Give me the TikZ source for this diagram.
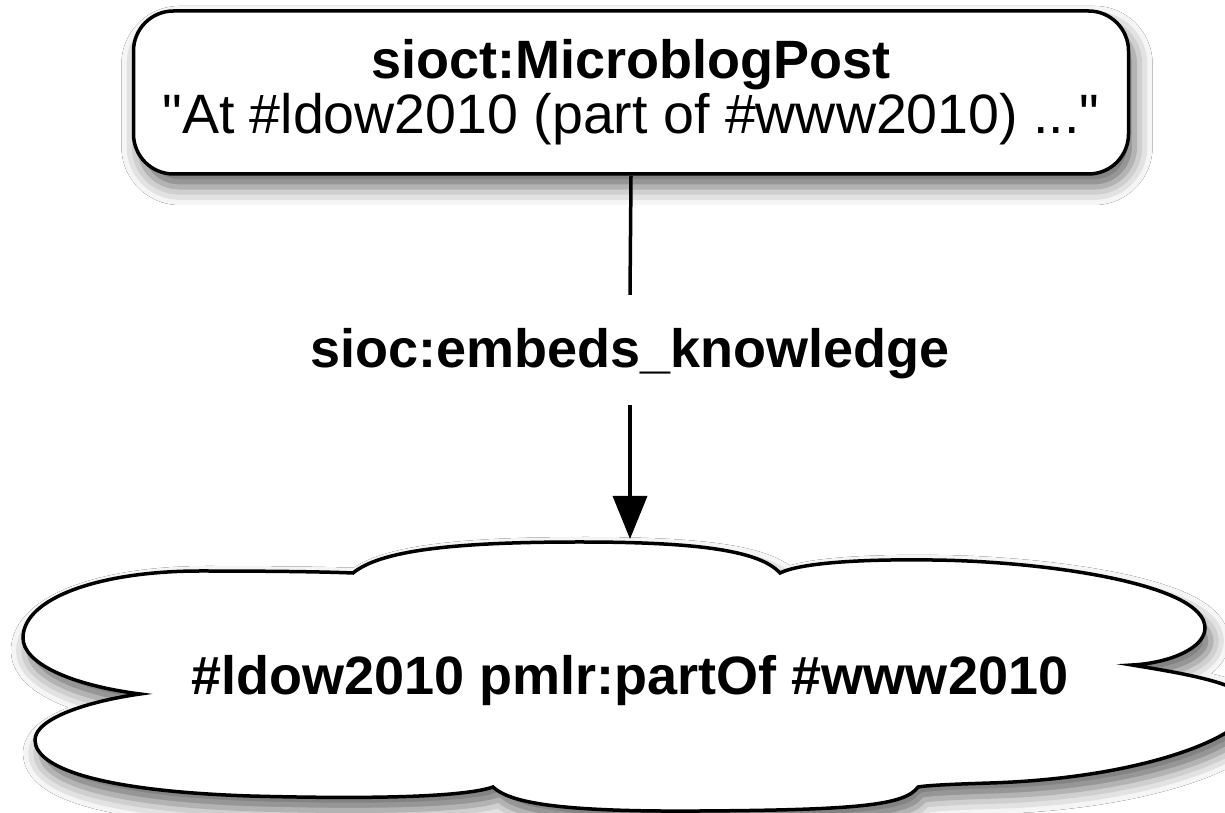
\documentclass[tikz,border=0pt]{standalone}
\usepackage{fontspec}
\setmainfont{Liberation Sans}
\newfontfamily\plainquotes{Liberation Sans}
\usetikzlibrary{arrows.meta,shadows.blur}
\tikzset{
  softshadow/.style={blur shadow={shadow xshift=6pt,shadow yshift=-13pt,shadow blur radius=18pt,shadow opacity=60}},
  postbox/.style={draw=black,line width=3.5pt,fill=white,rounded corners=40pt,
    minimum width=995pt,minimum height=163pt,align=center,inner sep=0pt,softshadow,
    font=\fontsize{54}{55}\selectfont},
  edgelabel/.style={font=\fontsize{54}{55}\selectfont\bfseries,anchor=base,text height=48pt,text depth=12pt,inner xsep=0pt,inner ysep=25pt},
  connector/.style={line width=3.5pt,draw=black},
  cloudshape/.style={draw=black,line width=3.5pt,fill=white,softshadow},
  cloudlabel/.style={font=\fontsize{54}{55}\selectfont\bfseries,anchor=base,inner sep=0pt}
}
\begin{document}
\begin{tikzpicture}[x=1pt,y=1pt]
\useasboundingbox[fill=white] (0,0) rectangle (1225,813);
% cloud
\path[cloudshape]
  (353,240) .. controls (380,262) and (450,271) .. (580,271)
  .. controls (700,271) and (760,262) .. (780,240)
  .. controls (800,250) and (860,254) .. (932,253)
  .. controls (1040,252) and (1205,230) .. (1205,185)
  .. controls (1205,165) and (1170,150) .. (1132,148)
  .. controls (1180,140) and (1245,130) .. (1250,110)
  .. controls (1255,80) and (1150,35) .. (990,30)
  .. controls (960,29) and (930,28) .. (918,26)
  .. controls (905,8) and (860,3) .. (700,2)
  .. controls (560,1) and (510,10) .. (493,26)
  .. controls (470,18) and (400,13) .. (250,17)
  .. controls (100,22) and (35,45) .. (35,73)
  .. controls (35,95) and (90,112) .. (140,119)
  .. controls (70,128) and (23,150) .. (23,175)
  .. controls (23,215) and (100,242) .. (200,242)
  .. controls (280,242) and (330,241) .. cycle;
\node[cloudlabel] (cloudtext) at (630,118) {\#ldow2010 pmlr:partOf \#www2010};
\coordinate (cloudtop) at (630,274);
% post box
\node[postbox] (post) at (631,720.5) {\textbf{sioct:MicroblogPost}\\{\plainquotes\fontsize{55.5}{55}\selectfont "At \#ldow2010 (part of \#www2010) ..."}};
% relation label
\node[edgelabel] (rel) at (630,445) {sioc:embeds\_knowledge};
\draw[connector] (post.south) -- (rel.north);
\draw[connector,-{Triangle[width=34pt,length=43pt]}] (rel.south) -- (cloudtop);
\end{tikzpicture}
\end{document}
